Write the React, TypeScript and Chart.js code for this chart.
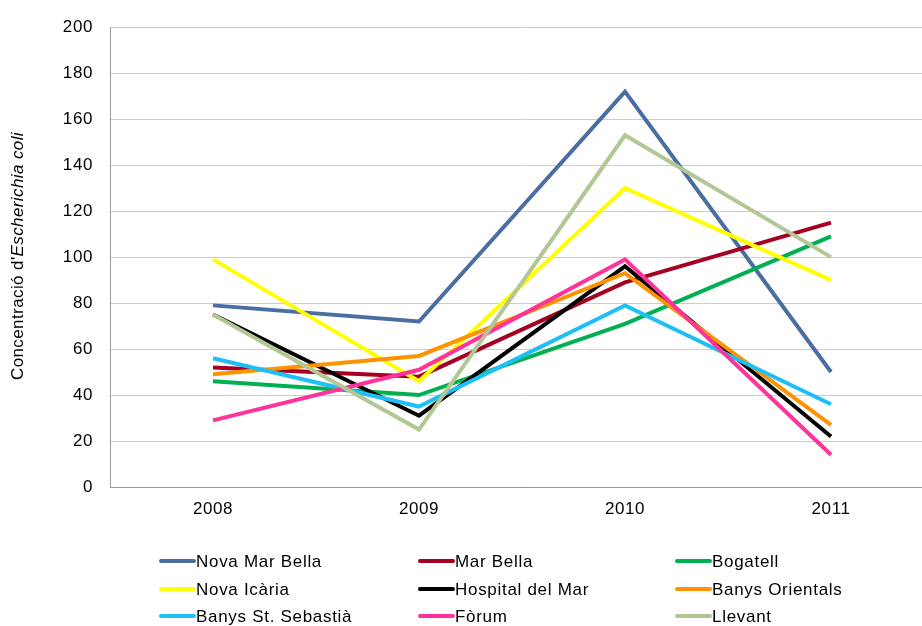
import React, { useEffect, useRef } from "react";
import { Chart, registerables } from "chart.js";

Chart.register(...registerables);

const years = ["2008", "2009", "2010", "2011"];
const novaMarBella = [79, 72, 172, 50];
const marBella = [52, 48, 89, 115];
const bogatell = [46, 40, 71, 109];
const novaIcaria = [99, 46, 130, 90];
const hospitalDelMar = [75, 31, 96, 22];
const banysOrientals = [49, 57, 93, 27];
const banysStSebastia = [56, 35, 79, 36];
const forum = [29, 51, 99, 14];
const llevant = [75, 25, 153, 100];

const seriesNames = [
  "Nova Mar Bella",
  "Mar Bella",
  "Bogatell",
  "Nova Icària",
  "Hospital del Mar",
  "Banys Orientals",
  "Banys St. Sebastià",
  "Fòrum",
  "Llevant",
];
const seriesValues = [
  novaMarBella,
  marBella,
  bogatell,
  novaIcaria,
  hospitalDelMar,
  banysOrientals,
  banysStSebastia,
  forum,
  llevant,
];
const seriesColors = [
  "#4A6EA3",
  "#A50021",
  "#00B050",
  "#FFFF00",
  "#000000",
  "#FF9200",
  "#1EBFF5",
  "#FF3399",
  "#B2C794",
];
const yTicks = [0, 20, 40, 60, 80, 100, 120, 140, 160, 180, 200];

const FONT = '"Liberation Sans", Arial, sans-serif';

const spacingPlugin = {
  id: "spacing",
  beforeDraw(chart: any) {
    chart.ctx.letterSpacing = "0.6px";
  },
};

const titlePlugin = {
  id: "yTitle",
  afterDraw(chart: any) {
    const ctx = chart.ctx;
    ctx.save();
    ctx.letterSpacing = "0.4px";
    ctx.translate(18, 256);
    ctx.rotate(-Math.PI / 2);
    ctx.fillStyle = "#000";
    ctx.textBaseline = "middle";
    const normal = `17px ${FONT}`;
    const italic = `italic 17px ${FONT}`;
    const a = "Concentració d'";
    const b = "Escherichia coli";
    ctx.font = normal;
    const wa = ctx.measureText(a).width;
    ctx.font = italic;
    const wb = ctx.measureText(b).width;
    const start = -(wa + wb) / 2;
    ctx.textAlign = "left";
    ctx.font = normal;
    ctx.fillText(a, start, 0);
    ctx.font = italic;
    ctx.fillText(b, start + wa, 0);
    ctx.restore();
  },
};

const legendPlugin = {
  id: "gridLegend",
  afterDraw(chart: any) {
    const ctx = chart.ctx;
    const colX = [161, 420, 677];
    const rowY = [561, 589, 616];
    ctx.save();
    ctx.letterSpacing = "0.7px";
    ctx.font = `17px ${FONT}`;
    ctx.textBaseline = "middle";
    ctx.textAlign = "left";
    chart.data.datasets.forEach((ds: any, i: number) => {
      const x = colX[i % 3];
      const y = rowY[Math.floor(i / 3)];
      ctx.strokeStyle = ds.borderColor;
      ctx.lineWidth = 4;
      ctx.lineCap = "round";
      ctx.beginPath();
      ctx.moveTo(x, y);
      ctx.lineTo(x + 33, y);
      ctx.stroke();
      ctx.fillStyle = "#000";
      ctx.fillText(ds.label, x + 35, y + 1);
    });
    ctx.restore();
  },
};

export default function App() {
  const ref = useRef<HTMLCanvasElement | null>(null);
  useEffect(() => {
    if (!ref.current) return;
    const n = seriesNames.length;
    const chart = new Chart(ref.current, {
      type: "line",
      data: {
        labels: years,
        datasets: seriesNames.map((name, i) => ({
          label: name,
          data: seriesValues[i],
          borderColor: seriesColors[i],
          backgroundColor: seriesColors[i],
          borderWidth: 4,
          pointRadius: 0,
          tension: 0,
          order: n - i,
        })),
      },
      options: {
        responsive: false,
        animation: false,
        layout: { padding: { top: 24, right: 0, left: 0, bottom: 0 } },
        plugins: { legend: { display: false }, tooltip: { enabled: false } },
        scales: {
          x: {
            offset: true,
            grid: { display: false, drawTicks: false },
            border: { display: true, color: "#9A9A9A", width: 1 },
            ticks: {
              color: "#000",
              font: { family: FONT, size: 17 },
              padding: 12,
            },
            afterFit(scale: any) {
              scale.height = 139;
            },
          },
          y: {
            min: 0,
            max: 200,
            afterBuildTicks(scale: any) {
              scale.ticks = yTicks.map((v) => ({ value: v }));
            },
            grid: { color: "#CDCDCD", lineWidth: 1, drawTicks: false },
            border: { display: true, color: "#9A9A9A", width: 1 },
            ticks: {
              color: "#000",
              font: { family: FONT, size: 17 },
              padding: 17,
            },
            afterFit(scale: any) {
              scale.width = 110;
            },
          },
        },
      },
      plugins: [spacingPlugin, titlePlugin, legendPlugin],
    });
    return () => chart.destroy();
  }, []);
  return (
    <div
      style={{
        position: "fixed",
        left: 0,
        top: 0,
        width: 922,
        height: 626,
        overflow: "hidden",
        background: "#fff",
      }}
    >
      <canvas ref={ref} width={934} height={626} style={{ display: "block" }} />
    </div>
  );
}
